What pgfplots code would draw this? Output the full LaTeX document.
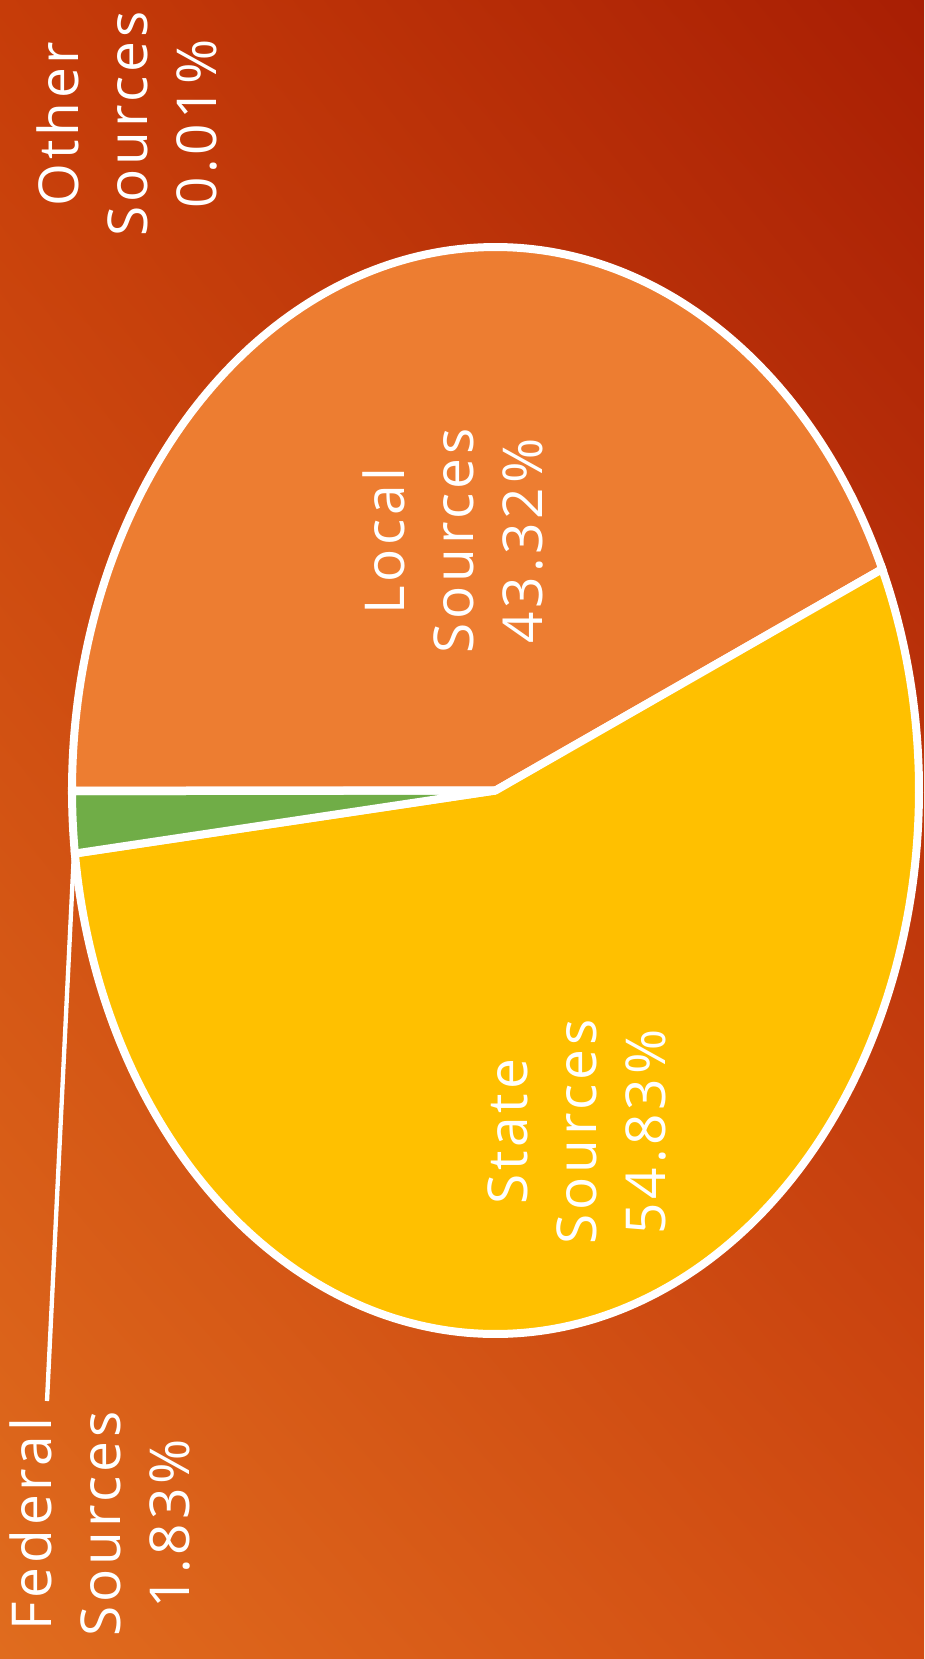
\documentclass[border=0pt]{standalone}
\usepackage{fontspec}
\usepackage{pgfplots}
\usepackage{pgfplotstable}
\pgfplotsset{compat=1.18}
\usetikzlibrary{shadings}
\newfontfamily\lab[LetterSpace=7]{Open Sans}
\definecolor{cLocal}{HTML}{ED7D31}
\definecolor{cState}{HTML}{FFC000}
\definecolor{cFed}{HTML}{70AD47}
\definecolor{cOther}{HTML}{5B9BD5}
\definecolor{bgUL}{HTML}{C63C09}
\definecolor{bgUR}{HTML}{A81E04}
\definecolor{bgLL}{HTML}{E06C1E}
\definecolor{bgLR}{HTML}{D24C12}

\pgfplotstableread{
label value
Local 43.32
State 54.83
Federal 1.83
Other 0.01
}\piedata

\pgfplotstablegetelem{0}{value}\of\piedata \let\vA\pgfplotsretval
\pgfplotstablegetelem{1}{value}\of\piedata \let\vB\pgfplotsretval
\pgfplotstablegetelem{2}{value}\of\piedata \let\vC\pgfplotsretval
\pgfplotstablegetelem{3}{value}\of\piedata \let\vD\pgfplotsretval

\def\cx{495.5}
\def\cy{790.5}
\def\rx{423.5}
\def\ry{543.5}
\pgfmathsetmacro\aA{180}
\pgfmathsetmacro\aB{\aA+3.6*\vA}
\pgfmathsetmacro\aC{\aB+3.6*\vB}
\pgfmathsetmacro\aD{\aC+3.6*\vC}
\pgfmathsetmacro\aE{\aD+3.6*\vD}

\begin{document}
\begin{tikzpicture}
\begin{axis}[
  scale only axis,
  width=277.2pt, height=497.7pt,
  xmin=0, xmax=924, ymin=0, ymax=1659,
  y dir=reverse,
  axis lines=none,
  clip=true,
]
\shade[upper left=bgUL, upper right=bgUR, lower left=bgLL, lower right=bgLR]
  (axis cs:0,0) rectangle (axis cs:924,1659);
\addplot[fill=cLocal, draw=white, line width=2.4pt, line join=miter, domain=\aA:\aB, samples=150, variable=\t]
  ({\cx+\rx*cos(\t)},{\cy+\ry*sin(\t)}) -- (axis cs:\cx,\cy) -- cycle;
\addplot[fill=cState, draw=white, line width=2.4pt, line join=miter, domain=\aB:\aC, samples=180, variable=\t]
  ({\cx+\rx*cos(\t)},{\cy+\ry*sin(\t)}) -- (axis cs:\cx,\cy) -- cycle;
\addplot[fill=cFed, draw=white, line width=2.4pt, line join=miter, domain=\aC:\aD, samples=10, variable=\t]
  ({\cx+\rx*cos(\t)},{\cy+\ry*sin(\t)}) -- (axis cs:\cx,\cy) -- cycle;
\addplot[fill=cOther, draw=white, line width=2.4pt, line join=miter, domain=\aD:\aE, samples=2, variable=\t]
  ({\cx+\rx*cos(\t)},{\cy+\ry*sin(\t)}) -- (axis cs:\cx,\cy) -- cycle;
\draw[white, line width=1.3pt] (axis cs:47,1401) -- (axis cs:74,852);
\tikzset{lbl/.style={rotate=90, align=center, text=white, inner sep=0pt,
  font=\lab\fontsize{16.5}{20.7}\selectfont}}
\node[lbl] at (axis cs:127,124) {Other\\Sources\\0.01\%};
\node[lbl] at (axis cs:453,541) {Local\\Sources\\43.32\%};
\node[lbl] at (axis cs:577,1132) {State\\Sources\\54.83\%};
\node[lbl] at (axis cs:100,1524) {Federal\\Sources\\1.83\%};
\end{axis}
\end{tikzpicture}
\end{document}
